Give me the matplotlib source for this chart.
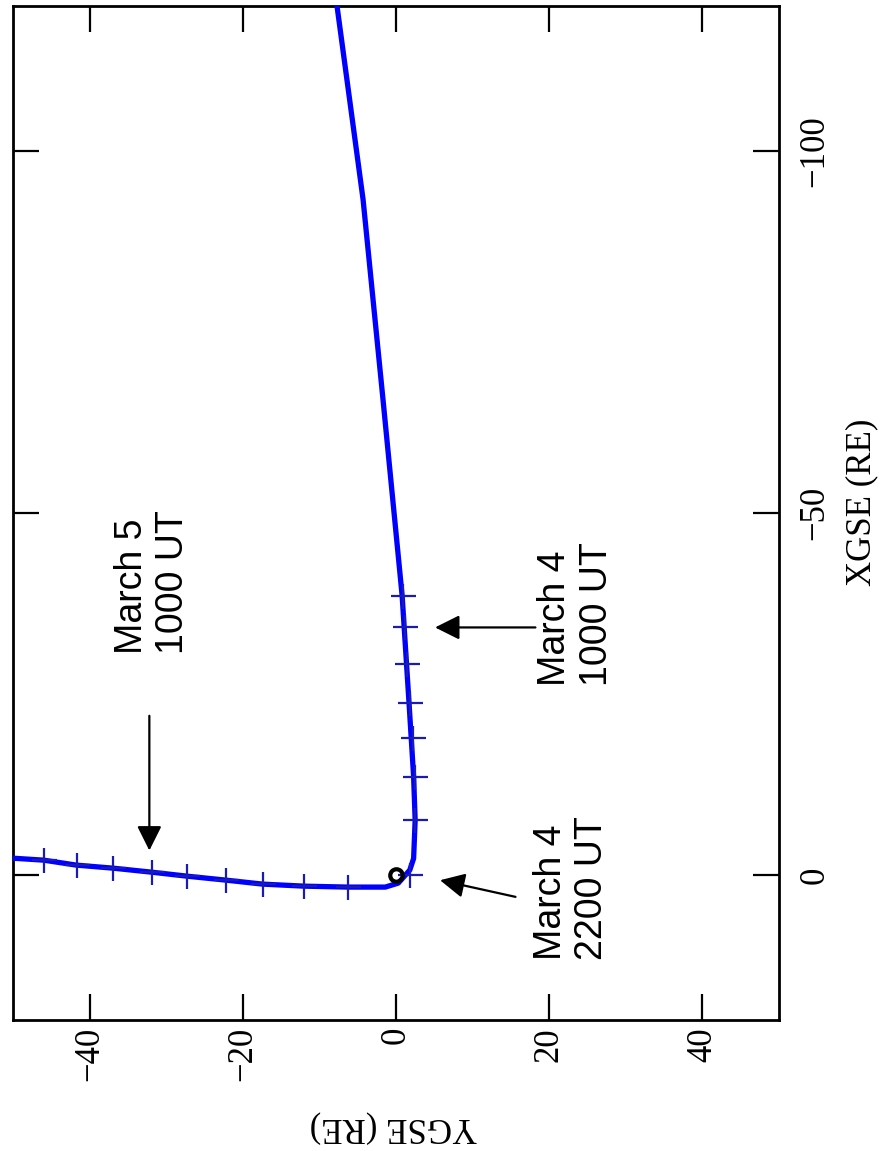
import matplotlib
matplotlib.use("Agg")
import matplotlib.pyplot as plt

# trajectory (GSE, Earth radii)
traj_ygse = [-7.7, -4.3, -1.7, 0.8, 1.7, 2.3, 2.5, 2.3, 1.8, 0.3, -1.4,
             -6.3, -12.0, -17.4, -22.2, -27.3, -31.9, -36.9, -41.7, -46.0, -50.0]
traj_xgse = [-120.0, -93.3, -65.7, -38.6, -23.8, -13.6, -7.6, -2.3, -0.7, 1.1, 1.65,
             1.65, 1.52, 1.24, 0.69, 0.14, -0.41, -0.96, -1.38, -2.07, -2.34]

# 2-hour marks
mark_ygse = [0.9, 1.2, 1.4, 1.8, 2.2, 2.5, 2.5, 1.8,
             -6.3, -12.0, -17.4, -22.2, -27.3, -31.9, -36.9, -41.7, -46.0]
mark_xgse = [-38.6, -34.2, -29.1, -23.8, -19.0, -13.6, -7.6, 0.0,
             1.65, 1.52, 1.24, 0.69, 0.14, -0.41, -0.96, -1.38, -2.07]

earth = (0.0, 0.0)

ygse_ticks = [-40, -20, 0, 20, 40]
xgse_ticks = [-100, -50, 0]

labels_txt = ["March 5\n1000 UT", "March 4\n1000 UT", "March 4\n2200 UT"]
labels_pos = [(-31.8, -40.5), (23.5, -36.1), (22.9, 1.8)]
arrow_tail = [(-32.2, -22.0), (18.2, -34.2), (15.6, 3.0)]
arrow_tip = [(-32.2, -3.4), (5.1, -34.2), (5.75, 0.7)]

serif = "Liberation Serif"
sans = "Liberation Sans"

fig = plt.figure(figsize=(8.82, 11.51), dpi=100)
ax = fig.add_axes([13/882, 1-1020/1151, 766/882, 1014/1151])

ax.plot(traj_ygse, traj_xgse, color="#0000ff", lw=3.8, zorder=3)
ax.plot(mark_ygse, mark_xgse, ls="none", marker="+", ms=18, mew=1.6,
        color="#1a1ab4", zorder=4)
ax.plot(earth[0], earth[1], marker="o", ms=9, mew=3, mfc="none",
        mec="black", zorder=5)

ax.set_xlim(-50, 50)
ax.set_ylim(20, -120)

ax.set_xticks(ygse_ticks, [str(v).replace("-", "\u2212") for v in ygse_ticks],
              rotation=90, fontsize=25, family=serif)
ax.set_yticks(xgse_ticks, [str(v).replace("-", "\u2212") for v in xgse_ticks],
              rotation=90, fontsize=25, family=serif, va="center")
ax.tick_params(direction="in", length=19, width=1.6, top=True, bottom=True,
               left=True, right=True, labelleft=False, labelright=True)
ax.tick_params(axis="x", pad=5)
ax.tick_params(axis="y", pad=14)
for s in ax.spines.values():
    s.set_linewidth(2)

ax.set_xlabel("YGSE (RE)", rotation=180, fontsize=25, family=serif, va="center")
ax.xaxis.set_label_coords(0.496, -0.1055)
ax.yaxis.set_label_position("right")
ax.set_ylabel("XGSE (RE)", rotation=90, fontsize=25, family=serif,
              va="center", ha="center")
ax.yaxis.set_label_coords(1.108, 0.511)

for txt, pos in zip(labels_txt, labels_pos):
    ax.text(pos[0], pos[1], txt, rotation=90, ha="center", va="center",
            multialignment="left", fontsize=27, family=sans, linespacing=1.2)

for tail, tip in zip(arrow_tail, arrow_tip):
    ax.annotate("", xy=tip, xytext=tail,
                arrowprops=dict(arrowstyle="-|>,head_length=1.0,head_width=0.5",
                                mutation_scale=15, color="black", lw=1.6,
                                shrinkA=0, shrinkB=0))

fig.savefig("out.png", dpi=100)
